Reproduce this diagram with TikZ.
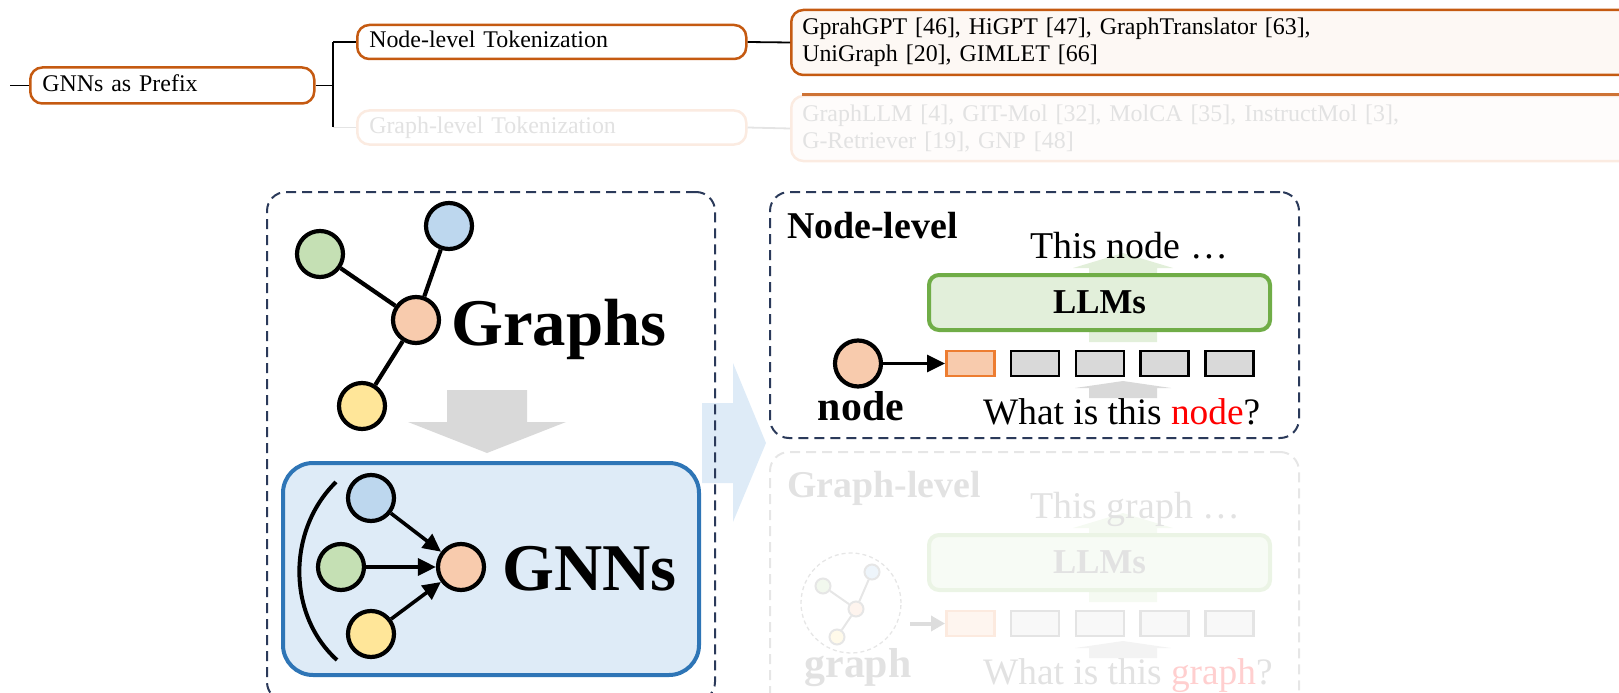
\documentclass[tikz,border=0pt]{standalone}
\usepackage{fontspec}
\setmainfont{Liberation Serif}
\usetikzlibrary{arrows.meta}

% tree colours
\definecolor{branch}{HTML}{C55A11}
\definecolor{leaffill}{HTML}{FDF8F4}
\definecolor{paleorange}{HTML}{FBEBE1}
\definecolor{paleleaf}{HTML}{FEFCFB}
\definecolor{palegray}{HTML}{E4E4E4}
% figure colours
\definecolor{navydash}{HTML}{2B3A5A}
\definecolor{ngreen}{HTML}{C5E0B4}
\definecolor{nblue}{HTML}{BDD7EE}
\definecolor{norange}{HTML}{F8CBAD}
\definecolor{nyellow}{HTML}{FFE699}
\definecolor{gnnfill}{HTML}{DEEBF7}
\definecolor{gnnline}{HTML}{2E75B6}
\definecolor{flowblue}{HTML}{DEEBF7}
\definecolor{arrowgray}{HTML}{D9D9D9}
\definecolor{llmfill}{HTML}{E2EFDA}
\definecolor{llmline}{HTML}{70AD47}
\definecolor{tokline}{HTML}{ED7D31}
\definecolor{tokgray}{HTML}{D9D9D9}
% washed-out colours for the graph-level branch
\definecolor{fdtext}{HTML}{E2E2E2}
\definecolor{fdline}{HTML}{E6E6E6}
\definecolor{fdllmfill}{HTML}{F7FBF5}
\definecolor{fdllmline}{HTML}{EBF4E5}
\definecolor{fdtokfill}{HTML}{F8F8F8}
\definecolor{fdtokline}{HTML}{E4E4E4}
\definecolor{fdorangefill}{HTML}{FEF5EF}
\definecolor{fdorangeline}{HTML}{FCEADF}
\definecolor{fdred}{HTML}{FFCFCF}
\definecolor{fdarrow}{HTML}{F3F3F3}
\definecolor{fdgreenarrow}{HTML}{F5FAF2}
\definecolor{fdsmallarrow}{HTML}{DDDDDD}
\definecolor{fdgreen}{HTML}{F2F8EE}
\definecolor{fdblue}{HTML}{EEF5FB}
\definecolor{fdorange}{HTML}{FEF4EE}
\definecolor{fdyellow}{HTML}{FFFAEA}

\begin{document}
\begin{tikzpicture}[x=1bp, y=-1bp,
  treebox/.style={draw=branch, line width=2.5bp, rounded corners=12bp, fill=white,
    anchor=west, inner xsep=12bp, inner ysep=0pt, align=left,
    font=\fontsize{24}{27}\selectfont, text height=17bp, text depth=5bp},
  leafbox/.style={draw=branch, line width=2.5bp, rounded corners=12bp, fill=leaffill,
    anchor=west, inner xsep=11bp, inner ysep=0pt, align=left,
    font=\fontsize{24}{27}\selectfont, minimum height=65bp},
  conn/.style={line width=1.8bp, black},
  fadeconn/.style={line width=1.8bp, palegray},
  dashpanel/.style={draw=navydash, line width=2bp, dash pattern=on 10bp off 6bp,
    rounded corners=19bp, anchor=north west, inner sep=0pt},
  fadepanel/.style={dashpanel, draw=fdline},
  graphnode/.style={circle, draw=black, line width=4.2bp, minimum size=46bp, inner sep=0pt},
  gedge/.style={line width=4.2bp, black},
  gnnarrow/.style={line width=3.6bp, black, -{Triangle[length=18bp,width=17bp]}},
  token/.style={rectangle, draw=black, fill=tokgray, line width=2.6bp,
    minimum width=48bp, minimum height=25bp, inner sep=0pt, anchor=west},
  firsttoken/.style={token, draw=tokline, fill=norange},
  fdtoken/.style={token, draw=fdtokline, fill=fdtokfill},
  fdfirsttoken/.style={token, draw=fdorangeline, fill=fdorangefill},
  llmbox/.style={draw=llmline, fill=llmfill, line width=4bp, rounded corners=10bp,
    minimum width=341bp, minimum height=55bp, inner sep=0pt,
    font=\bfseries\fontsize{35}{35}\selectfont},
  bigword/.style={inner sep=0pt, font=\bfseries\fontsize{67}{67}\selectfont},
  headword/.style={inner sep=0pt, anchor=base west, font=\bfseries\fontsize{38}{38}\selectfont},
  plainline/.style={inner sep=0pt, anchor=base west, font=\fontsize{38}{38}\selectfont},
  labelword/.style={inner sep=0pt, anchor=base, font=\bfseries\fontsize{42}{42}\selectfont},
  smallnode/.style={circle, draw=fdline, line width=2bp, minimum size=15bp, inner sep=0pt}
]
\useasboundingbox (0,0) rectangle (1619,693);
\clip (0,0) rectangle (1619,693);

% ---------------- taxonomy branch ----------------
\node[treebox, minimum width=284bp, minimum height=36bp, text width=260bp]
  (prefix) at (29,85.5) {GNNs as Prefix};
\node[treebox, minimum width=389bp, minimum height=34bp, text width=365bp]
  (nodetok) at (356,42) {Node-level Tokenization};
\node[treebox, draw=paleorange, text=fdtext, minimum width=389bp, minimum height=34bp, text width=365bp]
  (graphtok) at (356,127.5) {Graph-level Tokenization};
\node[leafbox, minimum width=880bp, text width=858bp] (nodeworks) at (790,42.5)
  {GprahGPT [46], HiGPT [47], GraphTranslator [63],\\UniGraph [20], GIMLET [66]};
\node[leafbox, draw=paleorange, fill=paleleaf, text=fdtext, minimum width=880bp, text width=858bp]
  (graphworks) at (790,128.5)
  {GraphLLM [4], GIT-Mol [32], MolCA [35], InstructMol [3],\\G-Retriever [19], GNP [48]};
\draw[branch!85, line width=2.5bp] ([xshift=12bp]graphworks.north west) -- (graphworks.north east);

\coordinate (root) at (10,85.5);
\coordinate (fork) at (333,85.5);
\draw[conn] (root) -- (prefix.west);
\draw[conn] (prefix.east) -- (fork);
\draw[conn] (fork |- nodetok.west) -- (fork |- graphtok.west);
\draw[conn] (fork |- nodetok.west) -- (nodetok.west);
\draw[fadeconn] (fork |- graphtok.west) -- (graphtok.west);
\draw[conn] (nodetok.east) -- (nodeworks.west);
\draw[fadeconn] (graphtok.east) -- (graphworks.west);

% ---------------- flow arrow between the panels ----------------
\fill[flowblue] (702,403) -- (733,403) -- (733,363) -- (766,443) -- (733,522)
  -- (733,483) -- (702,483) -- cycle;

% ---------------- graph encoder panel ----------------
\node[dashpanel, minimum width=448bp, minimum height=509bp] (encpanel) at (266,191) {};

\node[graphnode, fill=ngreen]  (ga) at (320,254) {};
\node[graphnode, fill=nblue]   (gb) at (449,226) {};
\node[graphnode, fill=nyellow] (gy) at (362,406) {};
\node[graphnode, fill=norange] (gc) at (416,320) {};
\draw[gedge] (ga) -- (gc);
\draw[gedge] (gb) -- (gc);
\draw[gedge] (gy) -- (gc);
\node[bigword, anchor=base west] (graphsword) at (451,345) {Graphs};

\fill[arrowgray] (447,390) -- (527,390) -- (527,422) -- (566,422) -- (487,453)
  -- (408,422) -- (447,422) -- cycle;

\node[draw=gnnline, fill=gnnfill, line width=4bp, rounded corners=30bp, anchor=north west,
  minimum width=416bp, minimum height=212bp, inner sep=0pt] (gnnbox) at (281,461) {};
\coordinate (brtop) at (336,482);
\coordinate (brbot) at (337,660);
\draw[line width=4bp] (brtop) .. controls (287,530) and (287,615) .. (brbot);
\node[graphnode, fill=nblue]   (mb) at (371,498) {};
\node[graphnode, fill=ngreen]  (mg) at (341,567) {};
\node[graphnode, fill=nyellow] (my) at (371,634) {};
\node[graphnode, fill=norange] (mo) at (461,567) {};
\draw[gnnarrow] (mb) -- (mo);
\draw[gnnarrow] (mg) -- (mo);
\draw[gnnarrow] (my) -- (mo);
\node[bigword, anchor=base west] (gnnsword) at (502,590) {GNNs};

% ---------------- node-level panel ----------------
\node[dashpanel, minimum width=529bp, minimum height=246bp] (nodepanel) at (769,191) {};
\node[headword] (nodehead) at (787,238) {Node-level};
\fill[llmfill] (1089,342) -- (1089,268) -- (1073,268) -- (1123,253) -- (1173,268)
  -- (1157,268) -- (1157,342) -- cycle;
\node[plainline] (nodeout) at (1030,258) {This node …};
\node[llmbox] (llmtop) at (1099.5,302.5) {LLMs};
\fill[arrowgray] (1089,398) -- (1089,388) -- (1075,388) -- (1123,381) -- (1171,388)
  -- (1157,388) -- (1157,398) -- cycle;
\node[firsttoken] (ta0) at (945,363.5) {};
\node[token] (ta1) at (1009.8,363.5) {};
\node[token] (ta2) at (1074.6,363.5) {};
\node[token] (ta3) at (1139.4,363.5) {};
\node[token] (ta4) at (1204.2,363.5) {};
\node[graphnode, fill=norange] (qnode) at (858,363.5) {};
\draw[gnnarrow, line width=3.3bp] (qnode) -- (ta0);
\node[labelword] (nodeword) at (861,420) {node};
\node[plainline, font=\fontsize{37.5}{37.5}\selectfont] (nodeask) at (983,424)
  {What is this \textcolor{red}{node}?};

% ---------------- graph-level panel ----------------
\node[fadepanel, minimum width=529bp, minimum height=260bp] (graphpanel) at (769,451) {};
\node[headword, text=fdtext] (graphhead) at (787,497) {Graph-level};
\fill[fdgreenarrow] (1089,602) -- (1089,528) -- (1073,528) -- (1123,513) -- (1173,528)
  -- (1157,528) -- (1157,602) -- cycle;
\node[plainline, text=fdtext] (graphout) at (1030,518) {This graph …};
\node[llmbox, draw=fdllmline, fill=fdllmfill, text=fdtext] (llmbottom) at (1099.5,562.5) {LLMs};
\fill[fdarrow] (1089,658) -- (1089,648) -- (1075,648) -- (1123,641) -- (1171,648)
  -- (1157,648) -- (1157,658) -- cycle;
\node[fdfirsttoken] (tb0) at (945,623.5) {};
\node[fdtoken] (tb1) at (1009.8,623.5) {};
\node[fdtoken] (tb2) at (1074.6,623.5) {};
\node[fdtoken] (tb3) at (1139.4,623.5) {};
\node[fdtoken] (tb4) at (1204.2,623.5) {};

\node[circle, draw=fdline, line width=1.3bp, dash pattern=on 4bp off 3bp,
  minimum size=100bp, inner sep=0pt] (gring) at (851,603) {};
\node[smallnode, fill=fdgreen]  (sa) at (823,586) {};
\node[smallnode, fill=fdblue]   (sb) at (872,572) {};
\node[smallnode, fill=fdyellow] (sy) at (837,637) {};
\node[smallnode, fill=fdorange] (sc) at (856,609) {};
\draw[fdline, line width=2bp] (sa) -- (sc);
\draw[fdline, line width=2bp] (sb) -- (sc);
\draw[fdline, line width=2bp] (sy) -- (sc);
\coordinate (ringout) at (910,623.5);
\draw[fdsmallarrow, line width=4bp, -{Triangle[length=14bp,width=15bp]}] (ringout) -- (tb0);
\node[labelword, text=fdtext] (graphword) at (858,677) {graph};
\node[plainline, text=fdtext, font=\fontsize{37.5}{37.5}\selectfont] (graphask) at (983,684)
  {What is this \textcolor{fdred}{graph}?};
\end{tikzpicture}
\end{document}
